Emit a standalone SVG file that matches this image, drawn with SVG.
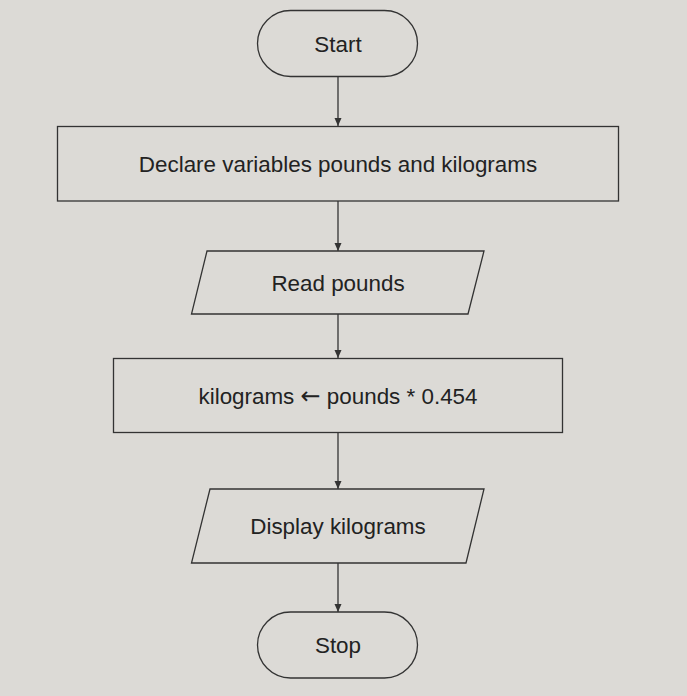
<svg xmlns="http://www.w3.org/2000/svg" width="687" height="696" viewBox="0 0 687 696">
<style>
.s{fill:none;stroke:#333;stroke-width:1.3}
.t{font-family:"Liberation Sans",Arial,sans-serif;font-size:22.4px;fill:#222;text-anchor:middle;dominant-baseline:central}
.c{stroke:#333;stroke-width:1.3;fill:none}
.ar{font-family:"DejaVu Sans",sans-serif;font-size:24px}
</style>
<defs>
<marker id="a" markerWidth="8" markerHeight="10" refX="8" refY="5" orient="auto" markerUnits="userSpaceOnUse">
<path d="M0,1.5 L8,5 L0,8.5 Z" fill="#333"/>
</marker>
</defs>
<rect width="687" height="696" fill="#dcdad6"/>
<g id="connectors">
<line class="c" x1="338" y1="77" x2="338" y2="126" marker-end="url(#a)"/>
<line class="c" x1="338" y1="201" x2="338" y2="251" marker-end="url(#a)"/>
<line class="c" x1="338" y1="314" x2="338" y2="358" marker-end="url(#a)"/>
<line class="c" x1="338" y1="433" x2="338" y2="489" marker-end="url(#a)"/>
<line class="c" x1="338" y1="563" x2="338" y2="612" marker-end="url(#a)"/>
</g>
<g id="start">
<rect class="s" x="257.5" y="10.5" width="160" height="66" rx="33"/>
<text class="t" x="338" y="44">Start</text>
</g>
<g id="declare">
<rect class="s" x="57.5" y="126.5" width="561" height="74.5"/>
<text class="t" x="338" y="164">Declare variables pounds and kilograms</text>
</g>
<g id="read">
<polygon class="s" points="207,251 484,251 468,314 191.5,314"/>
<text class="t" x="338" y="283">Read pounds</text>
</g>
<g id="compute">
<rect class="s" x="113.5" y="358.5" width="449" height="74"/>
<text class="t" x="338" y="396">kilograms <tspan class="ar">←</tspan> pounds * 0.454</text>
</g>
<g id="display">
<polygon class="s" points="210,489 484,489 466,563 191.5,563"/>
<text class="t" x="338" y="526">Display kilograms</text>
</g>
<g id="stop">
<rect class="s" x="257.5" y="612" width="160" height="66" rx="33"/>
<text class="t" x="338" y="645">Stop</text>
</g>
</svg>
